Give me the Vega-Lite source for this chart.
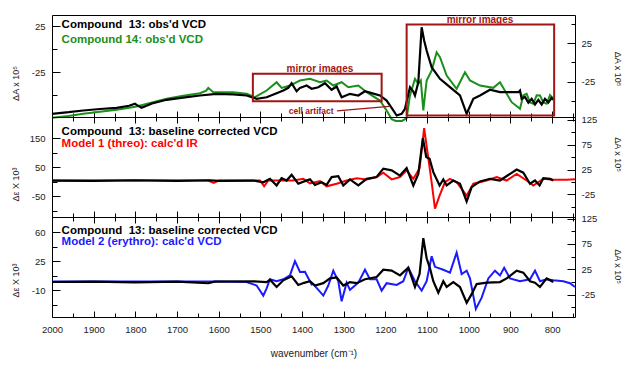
{
"$schema": "https://vega.github.io/schema/vega-lite/v6.json",
"padding": {"left": 10, "top": 14, "right": 0, "bottom": 0},
"background": "white",
"spacing": 0,
"bounds": "flush",
"config": {
  "view": {"stroke": "#000", "strokeWidth": 1},
  "axis": {"grid": false, "domain": false, "tickColor": "#000", "tickWidth": 1, "labelFont": "Liberation Sans", "labelFontSize": 9.5, "labelColor": "#222", "titleFont": "Liberation Sans", "titleFontSize": 9, "titleFontWeight": "normal", "titleColor": "#222"}
},
"datasets": {
  "p1b": [{"w":2000,"v":-70.2},{"w":1960,"v":-68.5},{"w":1925,"v":-66.6},{"w":1885,"v":-65},{"w":1845,"v":-63.7},{"w":1815,"v":-61.5},{"w":1801,"v":-59.3},{"w":1795,"v":-61},{"w":1785,"v":-63.7},{"w":1760,"v":-59},{"w":1725,"v":-55},{"w":1690,"v":-53},{"w":1645,"v":-50.3},{"w":1605,"v":-48.5},{"w":1565,"v":-49.2},{"w":1533,"v":-50.3},{"w":1509,"v":-53.9},{"w":1485,"v":-52.2},{"w":1461,"v":-47.8},{"w":1445,"v":-44.9},{"w":1433,"v":-42},{"w":1425,"v":-37},{"w":1413,"v":-45.7},{"w":1405,"v":-42},{"w":1389,"v":-39.5},{"w":1377,"v":-43},{"w":1361,"v":-41.3},{"w":1345,"v":-37},{"w":1329,"v":-44.1},{"w":1317,"v":-40.5},{"w":1305,"v":-52.2},{"w":1285,"v":-48.5},{"w":1265,"v":-50.3},{"w":1249,"v":-45.7},{"w":1233,"v":-47.8},{"w":1213,"v":-50.3},{"w":1197,"v":-55.8},{"w":1181,"v":-66.6},{"w":1173,"v":-72.1},{"w":1161,"v":-70.2},{"w":1153,"v":-64.8},{"w":1141,"v":-41.3},{"w":1133,"v":-46},{"w":1129,"v":-50.3},{"w":1121,"v":-35.9},{"w":1113,"v":23.9},{"w":1107,"v":9.5},{"w":1101,"v":-1.4},{"w":1089,"v":-19.6},{"w":1069,"v":-32.2},{"w":1045,"v":-41.3},{"w":1021,"v":-50.3},{"w":1005,"v":-70.2},{"w":989,"v":-53.9},{"w":973,"v":-50.3},{"w":949,"v":-44.1},{"w":925,"v":-46.7},{"w":881,"v":-46.7},{"w":877,"v":-44.9},{"w":873,"v":-53.9},{"w":865,"v":-52},{"w":857,"v":-58},{"w":849,"v":-54},{"w":841,"v":-60},{"w":833,"v":-55},{"w":825,"v":-60},{"w":817,"v":-54},{"w":809,"v":-58},{"w":801,"v":-53},{"w":797,"v":-55}],
  "p1g": [{"w":2000,"v":-74.6},{"w":1960,"v":-72.5},{"w":1925,"v":-70.2},{"w":1885,"v":-68},{"w":1845,"v":-65.9},{"w":1797,"v":-62.3},{"w":1760,"v":-58},{"w":1725,"v":-53.9},{"w":1685,"v":-50.5},{"w":1645,"v":-47.8},{"w":1630,"v":-45},{"w":1625,"v":-42},{"w":1613,"v":-46.7},{"w":1565,"v":-46.7},{"w":1533,"v":-48.5},{"w":1513,"v":-52.2},{"w":1485,"v":-44.9},{"w":1461,"v":-35.9},{"w":1449,"v":-42},{"w":1429,"v":-39.5},{"w":1405,"v":-34},{"w":1381,"v":-32.2},{"w":1357,"v":-35.9},{"w":1341,"v":-34},{"w":1325,"v":-39.5},{"w":1305,"v":-35.9},{"w":1289,"v":-41.3},{"w":1265,"v":-39.5},{"w":1245,"v":-46.7},{"w":1213,"v":-55.8},{"w":1197,"v":-66.6},{"w":1185,"v":-76},{"w":1175,"v":-78},{"w":1160,"v":-78},{"w":1149,"v":-75},{"w":1141,"v":-50.3},{"w":1129,"v":-32.2},{"w":1121,"v":-37.6},{"w":1115,"v":-34},{"w":1109,"v":-66.6},{"w":1101,"v":-34},{"w":1089,"v":-23.2},{"w":1077,"v":-3.3},{"w":1069,"v":-8.7},{"w":1053,"v":-28.6},{"w":1029,"v":-43},{"w":1009,"v":-25},{"w":997,"v":-34},{"w":973,"v":-39.5},{"w":941,"v":-42},{"w":925,"v":-35.9},{"w":897,"v":-57.6},{"w":877,"v":-64.8},{"w":869,"v":-50},{"w":861,"v":-48.5},{"w":853,"v":-58},{"w":845,"v":-59.3},{"w":837,"v":-50},{"w":829,"v":-50.3},{"w":821,"v":-58},{"w":813,"v":-59.3},{"w":805,"v":-50},{"w":797,"v":-53.9}],
  "p2b": [{"w":2000,"v":5},{"w":1900,"v":4},{"w":1800,"v":6},{"w":1700,"v":4},{"w":1620,"v":6},{"w":1600,"v":4},{"w":1517,"v":5},{"w":1493,"v":-1},{"w":1477,"v":11},{"w":1461,"v":-12},{"w":1449,"v":13},{"w":1437,"v":5},{"w":1425,"v":25},{"w":1409,"v":-6},{"w":1395,"v":2},{"w":1381,"v":9},{"w":1369,"v":-10},{"w":1353,"v":-1},{"w":1341,"v":-10},{"w":1329,"v":17},{"w":1313,"v":20},{"w":1301,"v":-12},{"w":1285,"v":9},{"w":1265,"v":-12},{"w":1245,"v":11},{"w":1221,"v":17},{"w":1205,"v":46},{"w":1185,"v":40},{"w":1165,"v":22},{"w":1149,"v":48},{"w":1133,"v":-12},{"w":1121,"v":28},{"w":1110,"v":151},{"w":1102,"v":86},{"w":1094,"v":80},{"w":1085,"v":34},{"w":1070,"v":-12},{"w":1061,"v":9},{"w":1053,"v":-12},{"w":1037,"v":5},{"w":1021,"v":-6},{"w":1005,"v":-67},{"w":993,"v":-18},{"w":973,"v":2},{"w":949,"v":11},{"w":925,"v":5},{"w":885,"v":43},{"w":869,"v":32},{"w":853,"v":-6},{"w":841,"v":5},{"w":830,"v":-12},{"w":821,"v":13},{"w":805,"v":11},{"w":797,"v":5}],
  "p2r": [{"w":2000,"v":5},{"w":1800,"v":5},{"w":1625,"v":5},{"w":1612,"v":-3},{"w":1600,"v":5},{"w":1501,"v":5},{"w":1491,"v":-15},{"w":1481,"v":5},{"w":1421,"v":5},{"w":1397,"v":11},{"w":1381,"v":-5},{"w":1357,"v":3},{"w":1341,"v":-15},{"w":1317,"v":-6},{"w":1293,"v":5},{"w":1269,"v":13},{"w":1245,"v":9},{"w":1221,"v":17},{"w":1205,"v":32},{"w":1185,"v":9},{"w":1165,"v":17},{"w":1149,"v":40},{"w":1133,"v":11},{"w":1118,"v":46},{"w":1107,"v":186},{"w":1099,"v":103},{"w":1089,"v":-1},{"w":1081,"v":-92},{"w":1070,"v":-47},{"w":1057,"v":-1},{"w":1045,"v":11},{"w":1029,"v":-1},{"w":1005,"v":-47},{"w":989,"v":-6},{"w":957,"v":5},{"w":933,"v":17},{"w":909,"v":5},{"w":885,"v":28},{"w":861,"v":5},{"w":845,"v":-12},{"w":821,"v":11},{"w":797,"v":8},{"w":765,"v":8},{"w":745,"v":9}],
  "p3b": [{"w":2000,"v":0},{"w":1900,"v":0.5},{"w":1800,"v":-0.5},{"w":1700,"v":0.5},{"w":1625,"v":-1.5},{"w":1610,"v":0.5},{"w":1517,"v":0.9},{"w":1485,"v":-0.1},{"w":1477,"v":2.7},{"w":1461,"v":-6},{"w":1445,"v":2},{"w":1425,"v":6.8},{"w":1409,"v":-3.5},{"w":1395,"v":-1},{"w":1381,"v":0.9},{"w":1369,"v":-4.2},{"w":1349,"v":-1.4},{"w":1333,"v":4.3},{"w":1317,"v":5.4},{"w":1301,"v":-4.2},{"w":1285,"v":-0.1},{"w":1269,"v":-1.4},{"w":1249,"v":3.3},{"w":1221,"v":6},{"w":1205,"v":14.7},{"w":1185,"v":13.6},{"w":1165,"v":7.9},{"w":1145,"v":17.1},{"w":1129,"v":-6},{"w":1118,"v":9.5},{"w":1109,"v":52.6},{"w":1101,"v":28.5},{"w":1093,"v":16.4},{"w":1085,"v":0.9},{"w":1073,"v":-12.8},{"w":1061,"v":0.9},{"w":1053,"v":-6},{"w":1037,"v":-0.1},{"w":1021,"v":-6},{"w":1005,"v":-24.9},{"w":993,"v":-14.6},{"w":981,"v":-2.5},{"w":957,"v":-0.8},{"w":925,"v":-0.1},{"w":909,"v":4.3},{"w":885,"v":13.6},{"w":869,"v":11.3},{"w":853,"v":0.9},{"w":841,"v":-0.8},{"w":829,"v":-6},{"w":813,"v":4.3},{"w":797,"v":-0.1}],
  "p3u": [{"w":2000,"v":0.5},{"w":1800,"v":0.5},{"w":1600,"v":0.5},{"w":1533,"v":-0.1},{"w":1509,"v":-4.2},{"w":1493,"v":-16.3},{"w":1485,"v":-7.6},{"w":1477,"v":3.3},{"w":1461,"v":0.9},{"w":1445,"v":3.3},{"w":1429,"v":7.9},{"w":1417,"v":25},{"w":1405,"v":12},{"w":1393,"v":12.3},{"w":1377,"v":-3},{"w":1373,"v":-2.5},{"w":1349,"v":-16.3},{"w":1337,"v":-4.2},{"w":1325,"v":13.6},{"w":1313,"v":0.9},{"w":1305,"v":-23.1},{"w":1293,"v":-0.8},{"w":1285,"v":-9.4},{"w":1265,"v":-0.8},{"w":1249,"v":14.7},{"w":1237,"v":3.3},{"w":1221,"v":3.3},{"w":1209,"v":-10.4},{"w":1197,"v":-1.4},{"w":1173,"v":-3.5},{"w":1157,"v":0.9},{"w":1145,"v":17.1},{"w":1129,"v":0.9},{"w":1113,"v":-10.4},{"w":1101,"v":0.9},{"w":1089,"v":30.9},{"w":1081,"v":18.2},{"w":1061,"v":14.7},{"w":1045,"v":11.3},{"w":1029,"v":35.3},{"w":1017,"v":9.5},{"w":1005,"v":13.6},{"w":997,"v":4.3},{"w":983,"v":-32.4},{"w":969,"v":-18.7},{"w":953,"v":4.3},{"w":937,"v":13.6},{"w":925,"v":7.9},{"w":915,"v":17.1},{"w":901,"v":4.3},{"w":877,"v":0.9},{"w":853,"v":3.3},{"w":841,"v":13.6},{"w":829,"v":0.9},{"w":813,"v":3.3},{"w":797,"v":2},{"w":773,"v":0.9},{"w":757,"v":-1.4},{"w":745,"v":-6}],
  "p1box": [{"w":1518,"w2":1209,"v":-26.7,"v2":-56.5},{"w":1149,"w2":795,"v":26.8,"v2":-72}],
  "p1mir": [{"w":1357,"v":-21.3,"t":"mirror images"},{"w":973,"v":32,"t":"mirror images"}]
},
"vconcat": [
 {
  "width": 523, "height": 102,
  "resolve": {"scale": {"y": "independent"}, "axis": {"x": "independent"}},
  "layer": [
   {"resolve": {"axis": {"x": "independent", "y": "independent"}},
    "layer": [
     {"data": {"name": "p1g"}, "mark": {"type": "line", "color": "#1b8f1b", "strokeWidth": 2},
      "encoding": {
        "x": {"field": "w", "type": "quantitative", "scale": {"domain": [2000, 745], "nice": false, "zero": false},
              "axis": {"orient": "bottom", "values": [2000,1900,1800,1700,1600,1500,1400,1300,1200,1100,1000,900,800], "labels": false, "title": null, "tickSize": -6}},
        "y": {"field": "v", "type": "quantitative", "scale": {"domain": [-73.7, 37.2], "nice": false, "zero": false},
              "axis": {"orient": "left", "values": [25, -25], "labelExpr": "'' + datum.value", "tickSize": -8, "labelPadding": 15, "title": "ΔA x 10⁵", "titleX": -37, "titleY": 68, "titleAngle": 270, "titleBaseline": "middle", "titleAlign": "center"}}
      }},
     {"data": {"name": "p1b"}, "mark": {"type": "line", "color": "#000", "strokeWidth": 2.2},
      "encoding": {
        "x": {"field": "w", "type": "quantitative", "scale": {"domain": [2000, 745], "nice": false, "zero": false},
              "axis": {"orient": "bottom", "values": [1950,1850,1750,1650,1550,1450,1350,1250,1150,1050,950,850,750], "labels": false, "title": null, "tickSize": -4}},
        "y": {"field": "v", "type": "quantitative", "scale": {"domain": [-73.7, 37.2], "nice": false, "zero": false},
              "axis": {"orient": "left", "values": [0, -50], "labels": false, "title": null, "tickSize": -5}}
      }},
     {"data": {"name": "p1box"}, "mark": {"type": "rect", "fill": "white", "fillOpacity": 0, "stroke": "#a01515", "strokeWidth": 2},
      "encoding": {
        "x": {"field": "w", "type": "quantitative", "scale": {"domain": [2000, 745], "nice": false, "zero": false}, "axis": null},
        "x2": {"field": "w2"},
        "y": {"field": "v", "type": "quantitative", "scale": {"domain": [-73.7, 37.2], "nice": false, "zero": false}, "axis": null},
        "y2": {"field": "v2"}
      }},
     {"data": {"name": "p1mir"}, "mark": {"type": "text", "align": "center", "baseline": "middle", "font": "Liberation Sans", "fontWeight": "bold", "fontSize": 10, "color": "#a01515"},
      "encoding": {
        "x": {"field": "w", "type": "quantitative", "scale": {"domain": [2000, 745], "nice": false, "zero": false}, "axis": null},
        "y": {"field": "v", "type": "quantitative", "scale": {"domain": [-73.7, 37.2], "nice": false, "zero": false}, "axis": null},
        "text": {"field": "t"}
      }},
     {"data": {"values": [{"w": 1378, "v": -67.4, "t": "cell artifact"}]}, "mark": {"type": "text", "align": "center", "baseline": "middle", "font": "Liberation Sans", "fontWeight": "bold", "fontSize": 8.5, "color": "#a01515"},
      "encoding": {
        "x": {"field": "w", "type": "quantitative", "scale": {"domain": [2000, 745], "nice": false, "zero": false}, "axis": null},
        "y": {"field": "v", "type": "quantitative", "scale": {"domain": [-73.7, 37.2], "nice": false, "zero": false}, "axis": null},
        "text": {"field": "t"}
      }},
     {"data": {"values": [{"w": 1316, "w2": 1191, "v": -67, "v2": -62.1}]}, "mark": {"type": "rule", "color": "#a01515", "strokeWidth": 1.3},
      "encoding": {
        "x": {"field": "w", "type": "quantitative", "scale": {"domain": [2000, 745], "nice": false, "zero": false}, "axis": null},
        "x2": {"field": "w2"},
        "y": {"field": "v", "type": "quantitative", "scale": {"domain": [-73.7, 37.2], "nice": false, "zero": false}, "axis": null},
        "y2": {"field": "v2"}
      }}
   ]},
   {"resolve": {"axis": {"x": "independent", "y": "independent"}},
    "layer": [
     {"data": {"values": [{"w": 1977, "r": 49, "t": "Compound \u00a013: obs'd VCD"}]}, "mark": {"type": "text", "align": "left", "baseline": "middle", "font": "Liberation Sans", "fontWeight": "bold", "fontSize": 11.5, "color": "#000"},
      "encoding": {
        "x": {"field": "w", "type": "quantitative", "scale": {"domain": [2000, 745], "nice": false, "zero": false}, "axis": null},
        "y": {"field": "r", "type": "quantitative", "scale": {"domain": [-71.3, 61.8], "nice": false, "zero": false},
              "axis": {"orient": "right", "values": [25, -25], "labelExpr": "'' + datum.value", "tickSize": -8, "labelPadding": 14, "title": "ΔA x 10⁵", "titleX": 42, "titleY": 53.5, "titleAngle": 90, "titleBaseline": "middle", "titleAlign": "center"}},
        "text": {"field": "t"}
      }},
     {"data": {"values": [{"w": 1977, "r": 29.8, "t": "Compound 14: obs'd VCD"}]}, "mark": {"type": "text", "align": "left", "baseline": "middle", "font": "Liberation Sans", "fontWeight": "bold", "fontSize": 11.5, "color": "#1b8f1b"},
      "encoding": {
        "x": {"field": "w", "type": "quantitative", "scale": {"domain": [2000, 745], "nice": false, "zero": false}, "axis": null},
        "y": {"field": "r", "type": "quantitative", "scale": {"domain": [-71.3, 61.8], "nice": false, "zero": false},
              "axis": {"orient": "right", "values": [50, 0, -50], "labels": false, "title": null, "tickSize": -4}},
        "text": {"field": "t"}
      }}
   ]}
  ]
 },
 {
  "width": 523, "height": 100,
  "resolve": {"scale": {"y": "independent"}, "axis": {"x": "independent"}},
  "layer": [
   {"resolve": {"axis": {"x": "independent", "y": "independent"}},
    "layer": [
     {"data": {"name": "p2r"}, "mark": {"type": "line", "color": "#ff0000", "strokeWidth": 2},
      "encoding": {
        "x": {"field": "w", "type": "quantitative", "scale": {"domain": [2000, 745], "nice": false, "zero": false},
              "axis": {"orient": "bottom", "values": [2000,1900,1800,1700,1600,1500,1400,1300,1200,1100,1000,900,800], "labels": false, "title": null, "tickSize": -6}},
        "y": {"field": "v", "type": "quantitative", "scale": {"domain": [-120.7, 224], "nice": false, "zero": false},
              "axis": {"orient": "left", "values": [150, 50, -50], "labelExpr": "'' + datum.value", "tickSize": -8, "labelPadding": 15, "title": "Δε X 10³", "titleX": -37, "titleY": 67, "titleAngle": 270, "titleBaseline": "middle", "titleAlign": "center"}}
      }},
     {"data": {"name": "p2b"}, "mark": {"type": "line", "color": "#000", "strokeWidth": 2.2},
      "encoding": {
        "x": {"field": "w", "type": "quantitative", "scale": {"domain": [2000, 745], "nice": false, "zero": false},
              "axis": {"orient": "bottom", "values": [1950,1850,1750,1650,1550,1450,1350,1250,1150,1050,950,850,750], "labels": false, "title": null, "tickSize": -4}},
        "y": {"field": "v", "type": "quantitative", "scale": {"domain": [-120.7, 224], "nice": false, "zero": false},
              "axis": {"orient": "left", "values": [100, 0, -100], "labels": false, "title": null, "tickSize": -5}}
      }}
   ]},
   {"resolve": {"axis": {"x": "independent", "y": "independent"}},
    "layer": [
     {"data": {"values": [{"w": 1977, "r": 101.4, "t": "Compound \u00a013: baseline corrected VCD"}]}, "mark": {"type": "text", "align": "left", "baseline": "middle", "font": "Liberation Sans", "fontWeight": "bold", "fontSize": 11.5, "color": "#000"},
      "encoding": {
        "x": {"field": "w", "type": "quantitative", "scale": {"domain": [2000, 745], "nice": false, "zero": false},
              "axis": {"orient": "top", "values": [2000,1900,1800,1700,1600,1500,1400,1300,1200,1100,1000,900,800], "labels": false, "title": null, "tickSize": -6}},
        "y": {"field": "r", "type": "quantitative", "scale": {"domain": [-70.2, 130.6], "nice": false, "zero": false},
              "axis": {"orient": "right", "values": [125, 75, 25, -25], "labelExpr": "'' + datum.value", "tickSize": -8, "labelPadding": 14, "title": "ΔA x 10⁵", "titleX": 42, "titleY": 37, "titleAngle": 90, "titleBaseline": "middle", "titleAlign": "center"}},
        "text": {"field": "t"}
      }},
     {"data": {"values": [{"w": 1977, "r": 76.5, "t": "Model 1 (threo): calc'd IR"}]}, "mark": {"type": "text", "align": "left", "baseline": "middle", "font": "Liberation Sans", "fontWeight": "bold", "fontSize": 11.5, "color": "#ff0000"},
      "encoding": {
        "x": {"field": "w", "type": "quantitative", "scale": {"domain": [2000, 745], "nice": false, "zero": false},
              "axis": {"orient": "top", "values": [1950,1850,1750,1650,1550,1450,1350,1250,1150,1050,950,850,750], "labels": false, "title": null, "tickSize": -4}},
        "y": {"field": "r", "type": "quantitative", "scale": {"domain": [-70.2, 130.6], "nice": false, "zero": false},
              "axis": {"orient": "right", "values": [100, 50, 0, -50], "labels": false, "title": null, "tickSize": -4}},
        "text": {"field": "t"}
      }}
   ]}
  ]
 },
 {
  "width": 523, "height": 100,
  "resolve": {"scale": {"y": "independent"}, "axis": {"x": "independent"}},
  "layer": [
   {"resolve": {"axis": {"x": "independent", "y": "independent"}},
    "layer": [
     {"data": {"name": "p3u"}, "mark": {"type": "line", "color": "#1a1aff", "strokeWidth": 2},
      "encoding": {
        "x": {"field": "w", "type": "quantitative", "scale": {"domain": [2000, 745], "nice": false, "zero": false},
              "axis": {"orient": "bottom", "values": [2000,1900,1800,1700,1600,1500,1400,1300,1200,1100,1000,900,800], "labelExpr": "'' + datum.value", "labelFlush": false, "labelOverlap": false, "labelPadding": 13, "title": "wavenumber (cm⁻¹)", "titleFontSize": 10, "titleY": 36, "titleBaseline": "middle", "tickSize": -6}},
        "y": {"field": "v", "type": "quantitative", "scale": {"domain": [-42, 78], "nice": false, "zero": false},
              "axis": {"orient": "left", "values": [60, 25, -10], "labelExpr": "'' + datum.value", "tickSize": -8, "labelPadding": 15, "title": "Δε X 10³", "titleX": -37, "titleY": 63, "titleAngle": 270, "titleBaseline": "middle", "titleAlign": "center"}}
      }},
     {"data": {"name": "p3b"}, "mark": {"type": "line", "color": "#000", "strokeWidth": 2.2},
      "encoding": {
        "x": {"field": "w", "type": "quantitative", "scale": {"domain": [2000, 745], "nice": false, "zero": false},
              "axis": {"orient": "bottom", "values": [1950,1850,1750,1650,1550,1450,1350,1250,1150,1050,950,850,750], "labels": false, "title": null, "tickSize": -4}},
        "y": {"field": "v", "type": "quantitative", "scale": {"domain": [-42, 78], "nice": false, "zero": false},
              "axis": {"orient": "left", "values": [42.5, 7.5, -27.5], "labels": false, "title": null, "tickSize": -5}}
      }}
   ]},
   {"resolve": {"axis": {"x": "independent", "y": "independent"}},
    "layer": [
     {"data": {"values": [{"w": 1977, "r": 101.2, "t": "Compound \u00a013: baseline corrected VCD"}]}, "mark": {"type": "text", "align": "left", "baseline": "middle", "font": "Liberation Sans", "fontWeight": "bold", "fontSize": 11.5, "color": "#000"},
      "encoding": {
        "x": {"field": "w", "type": "quantitative", "scale": {"domain": [2000, 745], "nice": false, "zero": false},
              "axis": {"orient": "top", "values": [2000,1900,1800,1700,1600,1500,1400,1300,1200,1100,1000,900,800], "labels": false, "title": null, "tickSize": -6}},
        "y": {"field": "r", "type": "quantitative", "scale": {"domain": [-68.8, 128], "nice": false, "zero": false},
              "axis": {"orient": "right", "values": [125, 75, 25, -25], "labelExpr": "'' + datum.value", "tickSize": -8, "labelPadding": 14, "title": "ΔA x 10⁵", "titleX": 42, "titleY": 49, "titleAngle": 90, "titleBaseline": "middle", "titleAlign": "center"}},
        "text": {"field": "t"}
      }},
     {"data": {"values": [{"w": 1977, "r": 78.4, "t": "Model 2 (erythro): calc'd VCD"}]}, "mark": {"type": "text", "align": "left", "baseline": "middle", "font": "Liberation Sans", "fontWeight": "bold", "fontSize": 11.5, "color": "#1a1aff"},
      "encoding": {
        "x": {"field": "w", "type": "quantitative", "scale": {"domain": [2000, 745], "nice": false, "zero": false},
              "axis": {"orient": "top", "values": [1950,1850,1750,1650,1550,1450,1350,1250,1150,1050,950,850,750], "labels": false, "title": null, "tickSize": -4}},
        "y": {"field": "r", "type": "quantitative", "scale": {"domain": [-68.8, 128], "nice": false, "zero": false},
              "axis": {"orient": "right", "values": [100, 50, 0, -50], "labels": false, "title": null, "tickSize": -4}},
        "text": {"field": "t"}
      }}
   ]}
  ]
 }
]
}
